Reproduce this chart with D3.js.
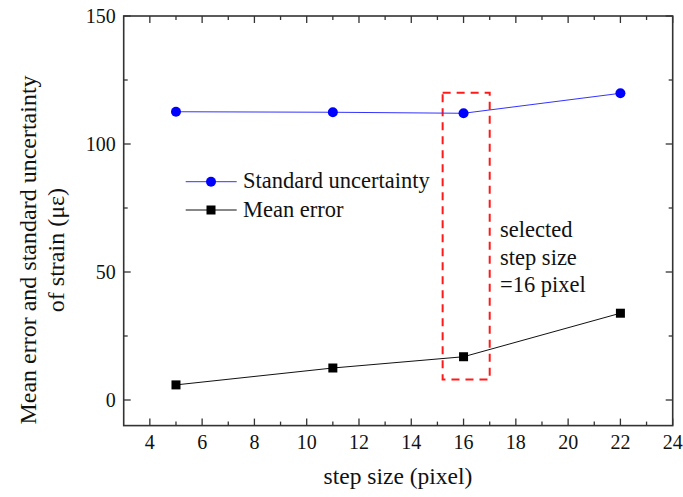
<!DOCTYPE html>
<html>
<head>
<meta charset="utf-8">
<script src="https://cdn.jsdelivr.net/npm/d3@7"></script>
<style>
  body { margin: 0; background: #fff; }
  text { font-family: "Liberation Serif", "Times New Roman", serif; fill: #111; }
</style>
</head>
<body>
<svg id="chart" width="683" height="497"></svg>
<script>
'use strict';

// step sizes (pixel)
var stepSizes = [5, 11, 16, 22];
var stdUncertainty = [112.6, 112.4, 112.0, 119.8];
var meanError = [5.9, 12.5, 16.9, 33.9];
var xTicks = [4, 6, 8, 10, 12, 14, 16, 18, 20, 22, 24];
var yTicks = [0, 50, 100, 150];
var selectedBox = { x0: 15.2, x1: 17, y0: 8, y1: 120 };
var noteLines = ['selected', 'step size', '=16 pixel'];

var svg = d3.select('#chart');
var plotLeft = 123.7, plotRight = 672.7, plotTop = 16, plotBottom = 425.6;

var x = d3.scaleLinear().domain([3, 24]).range([plotLeft, plotRight]);
var y = d3.scaleLinear().domain([-10, 150]).range([plotBottom, plotTop]);

var axisColor = '#333';

// frame
svg.append('rect')
    .attr('x', plotLeft).attr('y', plotTop)
    .attr('width', plotRight - plotLeft).attr('height', plotBottom - plotTop)
    .attr('fill', 'none').attr('stroke', axisColor).attr('stroke-width', 1.6);

// ticks (inward, on all four sides)
var g = svg.append('g').attr('stroke', axisColor).attr('stroke-width', 1.3);
d3.range(4, 24.01, 1).forEach(function(v) {
    var len = v % 2 === 0 ? 7 : 4;
    g.append('line').attr('x1', x(v)).attr('x2', x(v)).attr('y1', plotBottom).attr('y2', plotBottom - len);
    g.append('line').attr('x1', x(v)).attr('x2', x(v)).attr('y1', plotTop).attr('y2', plotTop + len);
});
d3.range(0, 150.01, 25).forEach(function(v) {
    var len = v % 50 === 0 ? 7 : 4;
    g.append('line').attr('y1', y(v)).attr('y2', y(v)).attr('x1', plotLeft).attr('x2', plotLeft + len);
    g.append('line').attr('y1', y(v)).attr('y2', y(v)).attr('x1', plotRight).attr('x2', plotRight - len);
});

// tick labels
svg.selectAll('.xl').data(xTicks).enter().append('text')
    .attr('x', function(d) { return x(d); })
    .attr('y', plotBottom + 23.5)
    .attr('text-anchor', 'middle')
    .attr('font-size', 20)
    .text(function(d) { return d; });

svg.selectAll('.yl').data(yTicks).enter().append('text')
    .attr('x', plotLeft - 8)
    .attr('y', function(d) { return y(d) + 6.5; })
    .attr('text-anchor', 'end')
    .attr('font-size', 20)
    .text(function(d) { return d; });

// axis titles
svg.append('text')
    .attr('x', 398).attr('y', 484)
    .attr('text-anchor', 'middle').attr('font-size', 23.5)
    .text('step size (pixel)');

var yt = svg.append('text')
    .attr('transform', 'translate(0,250) rotate(-90)')
    .attr('text-anchor', 'middle').attr('font-size', 24);
yt.append('tspan').attr('x', 0).attr('y', 36).text('Mean error and standard uncertainty');
yt.append('tspan').attr('x', 0).attr('y', 64).text('of strain (\u03bc\u03b5)');

// selected box
svg.append('rect')
    .attr('x', x(selectedBox.x0)).attr('y', y(selectedBox.y1))
    .attr('width', x(selectedBox.x1) - x(selectedBox.x0))
    .attr('height', y(selectedBox.y0) - y(selectedBox.y1))
    .attr('fill', 'none').attr('stroke', '#ff1a1a')
    .attr('stroke-width', 2).attr('stroke-dasharray', '8,6');

svg.selectAll('.note').data(noteLines).enter().append('text')
    .attr('x', 500)
    .attr('y', function(d, i) { return 237 + i * 27.5; })
    .attr('font-size', 22.5)
    .text(function(d) { return d; });

// series
var line = d3.line()
    .x(function(d) { return x(d[0]); })
    .y(function(d) { return y(d[1]); });

var stdPts = d3.zip(stepSizes, stdUncertainty);
var meanPts = d3.zip(stepSizes, meanError);

svg.append('path').datum(stdPts).attr('d', line)
    .attr('fill', 'none').attr('stroke', '#3333ff').attr('stroke-width', 1);
svg.selectAll('.dot').data(stdPts).enter().append('circle')
    .attr('cx', function(d) { return x(d[0]); })
    .attr('cy', function(d) { return y(d[1]); })
    .attr('r', 5).attr('fill', '#0000ff');

svg.append('path').datum(meanPts).attr('d', line)
    .attr('fill', 'none').attr('stroke', '#111').attr('stroke-width', 1);
svg.selectAll('.sq').data(meanPts).enter().append('rect')
    .attr('x', function(d) { return x(d[0]) - 4.5; })
    .attr('y', function(d) { return y(d[1]) - 4.5; })
    .attr('width', 9).attr('height', 9).attr('fill', '#000');

// legend
var legend = [
    { name: 'Standard uncertainty', color: '#3333ff', mark: 'circle', fill: '#0000ff', y: 181.7 },
    { name: 'Mean error', color: '#111', mark: 'square', fill: '#000', y: 210 }
];
legend.forEach(function(l) {
    svg.append('line').attr('x1', 185.7).attr('x2', 236.7)
        .attr('y1', l.y).attr('y2', l.y)
        .attr('stroke', l.color).attr('stroke-width', 1);
    if (l.mark === 'circle') {
        svg.append('circle').attr('cx', 211).attr('cy', l.y).attr('r', 5).attr('fill', l.fill);
    } else {
        svg.append('rect').attr('x', 206.5).attr('y', l.y - 4.5)
            .attr('width', 9).attr('height', 9).attr('fill', l.fill);
    }
    svg.append('text').attr('x', 243).attr('y', l.y + 6.5)
        .attr('font-size', 22.5).text(l.name);
});
</script>
</body>
</html>
